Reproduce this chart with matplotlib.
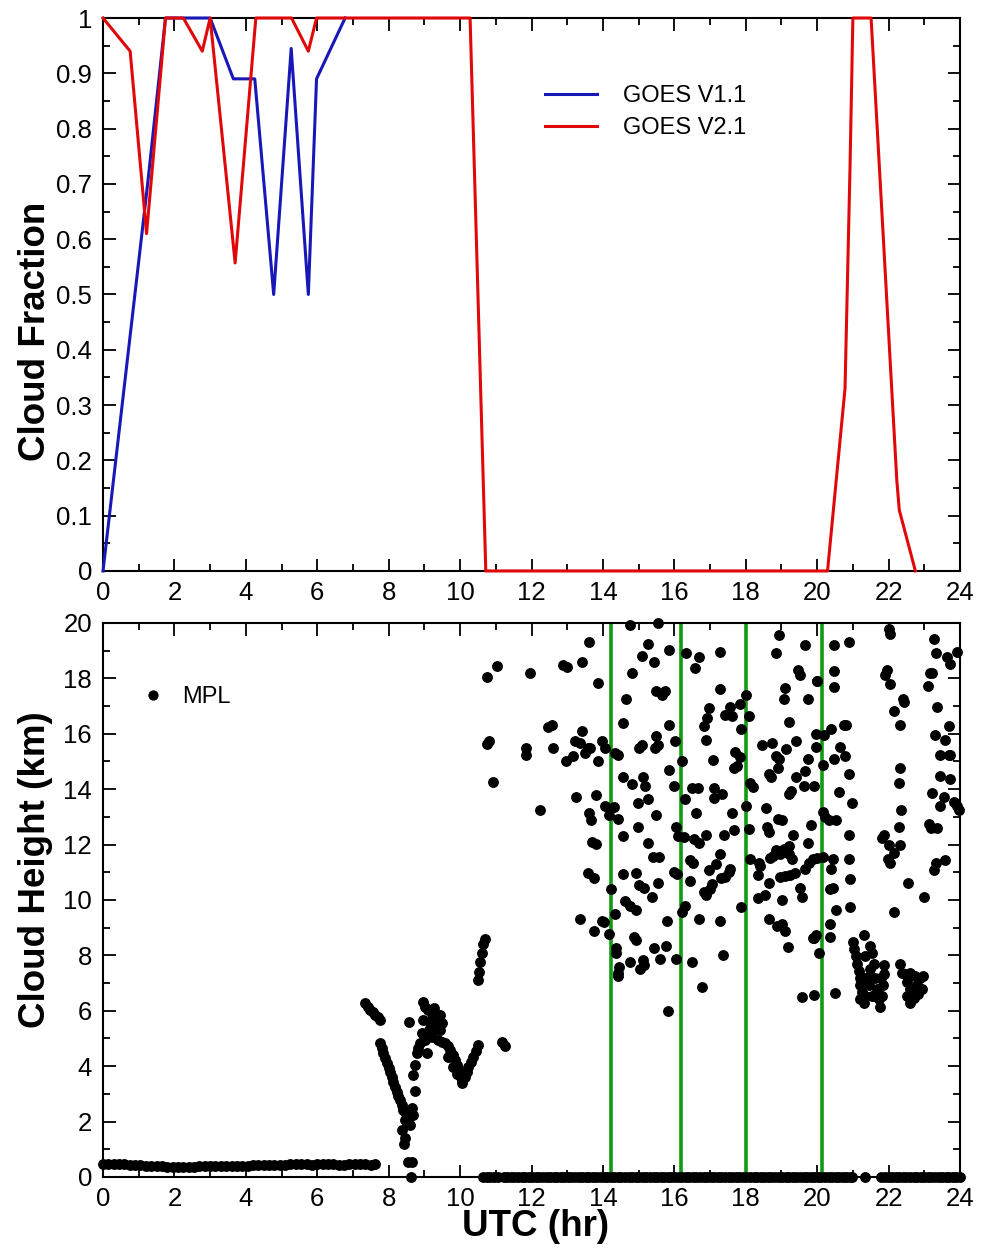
import matplotlib
matplotlib.use("Agg")
import matplotlib.pyplot as plt
from matplotlib.ticker import MultipleLocator, FuncFormatter
from matplotlib.lines import Line2D

plt.rcParams.update({
    "font.family": ["Liberation Sans", "DejaVu Sans"],
    "font.size": 18,
})

# --- GOES cloud fraction (top panel) ---
v11_hr = [0.0, 0.75, 1.25, 1.75, 3.0, 3.65, 4.25, 4.78, 5.27, 5.75, 5.98, 6.78]
v11_cf = [0.0, 0.42, 0.70, 1.0, 1.0, 0.89, 0.89, 0.50, 0.945, 0.50, 0.89, 1.0]

v21_hr = [0.0, 0.76, 1.22, 1.75, 2.25, 2.78, 3.0, 3.70, 4.28, 5.28, 5.75, 5.98,
          10.28, 10.72, 20.29, 20.78, 20.92, 21.0, 21.51, 22.23, 22.30, 22.75]
v21_cf = [1.0, 0.94, 0.61, 1.0, 1.0, 0.94, 1.0, 0.557, 1.0, 1.0, 0.94, 1.0,
          1.0, 0.0, 0.0, 0.33, 0.73, 1.0, 1.0, 0.164, 0.11, 0.0]

# --- MPL cloud heights (bottom panel) ---
base_hr = [0.00, 0.15, 0.30, 0.45, 0.60, 0.75, 0.90, 1.05, 1.20, 1.35, 1.50, 1.65,
           1.80, 1.95, 2.10, 2.25, 2.40, 2.55, 2.70, 2.85, 3.00, 3.15, 3.30, 3.45,
           3.60, 3.75, 3.90, 4.05, 4.20, 4.35, 4.50, 4.65, 4.80, 4.95, 5.10, 5.25,
           5.40, 5.55, 5.70, 5.85, 6.00, 6.15, 6.30, 6.45, 6.60, 6.75, 6.90, 7.05,
           7.20, 7.35, 7.50, 7.62]
base_km = [0.48, 0.47, 0.46, 0.46, 0.45, 0.44, 0.43, 0.42, 0.41, 0.40, 0.40, 0.38,
           0.37, 0.36, 0.36, 0.35, 0.36, 0.37, 0.38, 0.38, 0.39, 0.40, 0.40, 0.40,
           0.41, 0.40, 0.40, 0.41, 0.42, 0.42, 0.42, 0.43, 0.42, 0.43, 0.44, 0.46,
           0.47, 0.46, 0.45, 0.44, 0.45, 0.46, 0.46, 0.45, 0.44, 0.44, 0.45, 0.46,
           0.47, 0.45, 0.44, 0.46]

zero_hr = [10.65, 10.75, 10.85, 10.95, 11.05, 11.22, 11.32, 11.42, 11.52, 11.62,
           11.72, 11.82, 11.92, 12.02, 12.12, 12.22, 12.32, 12.42, 12.52, 12.62,
           12.72, 12.82, 12.92, 13.02, 13.12, 13.22, 13.32, 13.42, 13.52, 13.62,
           13.72, 13.82, 13.92, 14.02, 14.12, 14.22, 14.32, 14.42, 14.52, 14.62,
           14.72, 14.82, 14.92, 15.02, 15.12, 15.22, 15.32, 15.42, 15.52, 15.62,
           15.72, 15.82, 15.92, 16.02, 16.12, 16.22, 16.32, 16.42, 16.52, 16.62,
           16.72, 16.82, 16.92, 17.02, 17.12, 17.22, 17.32, 17.42, 17.52, 17.62,
           17.72, 17.82, 17.92, 18.02, 18.12, 18.22, 18.32, 18.42, 18.52, 18.62,
           18.72, 18.82, 18.92, 19.02, 19.12, 19.22, 19.32, 19.42, 19.52, 19.62,
           19.72, 19.82, 19.92, 20.02, 20.12, 20.22, 20.32, 20.42, 20.52, 20.62,
           20.72, 20.82, 20.92, 20.98, 21.34, 21.80, 21.90, 22.00, 22.10, 22.20,
           22.30, 22.40, 22.50, 22.60, 22.70, 22.80, 22.90, 23.00, 23.10, 23.20,
           23.30, 23.40, 23.50, 23.60, 23.70, 23.80, 23.90, 24.00]
zero_km = [0.0] * len(zero_hr)

low_hr = [7.34, 7.41, 7.48, 7.55, 7.62, 7.69, 7.76,
          7.76, 7.80, 7.85, 7.90, 7.95, 8.00, 8.04, 8.09, 8.13, 8.18, 8.22, 8.27,
          8.32, 8.36, 8.41, 8.46, 8.50,
          8.64, 8.69, 8.46, 8.60, 8.36, 8.46, 8.55, 8.64, 8.62, 8.58, 8.73, 8.55, 8.44,
          8.69, 8.74, 8.78, 8.83, 8.88, 8.92, 8.97, 9.02, 8.97,
          9.11, 9.25, 9.34, 9.44, 9.16, 9.30, 9.20, 9.44, 9.06, 9.38, 9.13, 9.28, 9.50, 9.22,
          9.39, 9.48, 9.58, 9.65, 9.72, 9.79, 9.86, 9.90, 9.95, 10.00, 10.05, 10.09,
          10.14, 10.19, 10.23, 10.30, 10.37, 10.44, 10.51, 9.81, 9.67, 9.02, 10.04, 9.92,
          10.50, 10.52, 10.56, 10.60, 10.65, 10.70, 11.17, 11.26]
low_km = [6.27, 6.15, 6.03, 5.94, 5.85, 5.76, 5.67,
          4.83, 4.65, 4.46, 4.28, 4.10, 3.95, 3.80, 3.62, 3.44, 3.26, 3.08, 2.93,
          2.78, 2.60, 2.42, 2.33, 2.24,
          2.48, 2.24, 2.06, 1.88, 1.70, 1.40, 0.55, 0.55, 0.01, 5.61, 3.12, 2.10, 1.20,
          3.68, 4.04, 4.46, 4.65, 4.83, 5.19, 5.67, 6.15, 6.33,
          6.03, 5.91, 5.67, 5.85, 5.55, 5.37, 5.07, 5.31, 4.46, 5.60, 5.30, 6.10, 5.55, 5.75,
          4.95, 4.89, 4.83, 4.71, 4.59, 4.40, 4.22, 4.05, 3.86, 3.65, 3.50, 3.60,
          3.62, 3.80, 3.98, 4.16, 4.34, 4.55, 4.76, 3.98, 4.34, 4.95, 3.40, 3.70,
          7.10, 7.40, 7.75, 8.10, 8.40, 8.60, 4.89, 4.71]

high_hr = [10.75, 11.03, 10.75, 10.80, 11.84, 11.84, 10.93, 12.25,
           11.96, 13.62, 12.89, 12.99, 13.41, 13.86, 14.76, 15.55, 15.27, 15.86, 15.09,
           15.43, 14.81, 15.49, 15.65, 15.74, 14.65, 14.57, 15.84, 16.03, 12.47, 12.56,
           12.60, 13.41, 13.22, 13.36, 13.57, 13.64, 13.50, 13.97, 14.06, 14.34, 14.41,
           13.17, 12.97, 13.86, 15.49, 15.55, 15.46, 15.09, 15.02, 14.57, 14.81, 15.13,
           15.18, 15.84, 15.98, 13.24, 13.81,
           14.06, 14.16, 14.31, 14.42, 13.62, 13.66, 14.97, 15.25, 15.49, 14.97, 16.04,
           16.10, 14.57, 13.69, 13.81, 15.25, 15.39, 15.58, 13.57, 13.74, 14.57, 14.93,
           15.02, 15.15, 15.53, 15.37, 15.99, 16.07, 14.24, 14.62, 14.76, 14.93, 14.34,
           13.36, 13.97, 14.03, 13.74, 14.16, 15.80, 14.87, 14.93, 14.37, 14.37, 15.43,
           15.76, 14.76, 15.13, 15.15, 15.04, 15.60, 16.04, 14.46, 14.41, 14.43, 15.83,
           16.33, 16.68, 16.58, 17.27, 17.28, 16.96, 16.91, 16.82, 16.89, 17.55, 17.42,
           17.61, 17.84, 17.86, 18.08, 18.01, 18.85, 18.94, 19.66, 19.45, 19.52, 19.99,
           19.10, 19.06, 19.73, 19.22, 19.41, 19.13, 19.97, 18.45, 18.73, 18.85, 18.94,
           18.91, 18.65, 18.71, 19.41, 19.73, 19.66, 19.62, 19.90, 18.12, 18.20, 17.71,
           17.84, 17.68, 17.75, 17.08, 16.21, 16.49, 16.65, 17.10, 17.10, 17.33, 16.31,
           19.22, 19.28, 18.01, 18.57, 16.61, 17.61, 18.89, 19.01, 18.59, 18.66, 19.84,
           16.26, 16.54, 16.68, 16.89, 17.38, 17.66, 18.08, 19.32, 19.73, 18.85, 18.97,
           19.06, 19.20, 18.68, 18.77, 18.38, 18.40, 19.22, 19.29, 19.76, 19.88, 19.99,
           19.66, 18.97, 19.11, 19.25, 19.39, 18.35, 18.66, 18.12, 17.28, 17.17, 17.57,
           17.52, 17.43, 17.31, 16.96, 16.44, 16.52, 16.43, 17.05, 16.99, 16.89, 16.82,
           18.33, 18.54, 19.51, 19.57, 19.01, 16.31, 16.21, 17.86, 16.68, 17.28, 18.66,
           18.87, 19.01, 19.11, 19.87, 19.96, 19.17, 20.05, 17.36, 16.49, 16.77, 19.57,
           19.91,
           20.46, 20.88, 20.46, 20.46, 20.00, 20.39, 20.18, 19.96, 20.74, 20.82, 20.64,
           20.78, 20.48, 20.16, 20.88, 20.61, 20.97, 20.16, 20.22, 20.34, 20.54, 20.88,
           20.44, 20.39, 20.16, 20.88, 20.91, 20.44, 20.35, 20.53, 20.91, 20.35, 20.35,
           19.91, 20.51,
           22.00, 22.05, 21.95, 21.91, 22.05, 22.42, 22.40, 22.14, 22.31, 23.26, 23.33,
           23.63, 23.72, 23.91, 23.15, 23.22, 23.10, 23.35, 23.68, 23.31, 23.59, 23.45,
           23.68, 23.72, 22.31, 22.28, 23.45, 23.72, 23.21, 23.54, 23.45, 23.82, 23.91,
           23.98, 22.36, 23.12, 23.18, 23.35, 21.86, 21.81, 22.28, 22.31, 22.00, 21.98,
           22.05, 22.14, 23.33, 23.59, 23.26, 22.53, 22.98, 22.14]
high_km = [18.05, 18.44, 15.64, 15.75, 15.50, 15.24, 14.27, 13.25,
           18.19, 19.33, 18.50, 18.40, 18.60, 17.82, 19.93, 20.00, 19.25, 19.03, 18.80,
           18.60, 18.19, 17.54, 17.41, 17.54, 17.26, 16.38, 16.31, 15.73, 16.25, 16.31,
           15.47, 16.09, 15.73, 15.66, 15.47, 15.50, 15.30, 15.73, 15.47, 15.31, 15.23,
           15.18, 15.00, 15.00, 15.92, 15.60, 15.47, 15.60, 15.47, 14.43, 14.17, 14.43,
           14.11, 14.69, 14.11, 13.72, 13.79,
           13.40, 13.07, 13.37, 12.94, 13.14, 12.88, 13.50, 13.66, 13.07, 12.65, 12.65,
           12.30, 12.30, 12.10, 12.01, 12.04, 11.55, 11.55, 10.96, 10.78, 10.94, 10.96,
           10.55, 10.45, 10.61, 10.10, 11.00, 10.94, 10.39, 9.97, 9.77, 9.64, 9.51,
           9.32, 9.23, 9.19, 8.87, 8.76, 9.23, 8.67, 8.54, 8.28, 8.09, 8.28,
           8.35, 7.77, 7.83, 7.64, 7.51, 7.86, 7.86, 7.57, 7.38, 7.25, 5.99,
           18.90, 18.77, 18.38, 18.96, 17.60, 16.92, 16.57, 16.27, 15.79, 16.96, 16.67,
           16.65, 17.09, 16.18, 16.63, 17.41, 18.90, 19.55, 19.20, 18.32, 18.12, 17.90,
           17.67, 17.26, 17.26, 16.44, 15.73, 15.44, 15.53, 15.60, 15.66, 15.21, 15.08,
           14.76, 14.56, 14.43, 14.43, 15.08, 14.67, 14.11, 14.11, 14.24, 14.07, 15.34,
           15.15, 14.76, 14.82, 15.06, 15.00, 14.05, 14.05, 14.05, 13.68, 13.81, 13.66,
           13.81, 13.92, 13.40, 13.33, 13.14, 13.14, 12.94, 12.88, 12.62, 12.47, 12.69,
           12.26, 12.21, 12.04, 12.36, 12.36, 12.52, 12.56, 12.36, 12.04, 11.82, 11.65,
           11.85, 11.95, 11.52, 11.59, 11.33, 11.22, 11.65, 11.48, 11.33, 11.48, 11.52,
           11.13, 10.83, 10.87, 10.91, 10.96, 10.91, 10.61, 11.48, 11.65, 11.29, 11.13,
           11.00, 10.83, 10.81, 11.10, 11.46, 11.35, 10.68, 10.56, 10.39, 10.19, 10.29,
           10.06, 10.19, 10.45, 10.10, 10.01, 9.77, 9.58, 9.75, 9.32, 9.23, 9.32,
           9.06, 9.13, 8.87, 8.61, 8.74, 8.32, 8.09, 8.03, 7.77, 6.86, 6.51,
           6.56,
           19.20, 19.33, 18.25, 17.70, 17.90, 16.18, 15.96, 16.00, 16.31, 16.31, 15.53,
           15.18, 15.10, 14.89, 14.54, 13.89, 13.50, 13.17, 13.01, 12.88, 12.88, 12.36,
           11.48, 11.13, 11.56, 11.48, 10.74, 10.42, 10.39, 9.64, 9.75, 9.15, 8.67,
           8.63, 6.64,
           19.80, 19.61, 18.32, 18.12, 17.80, 17.15, 17.25, 16.83, 16.31, 19.42, 18.90,
           18.77, 18.51, 18.96, 18.19, 18.19, 17.73, 16.96, 16.27, 15.96, 15.79, 15.24,
           15.24, 15.24, 14.76, 14.24, 14.46, 14.37, 13.85, 13.72, 13.40, 13.55, 13.40,
           13.24, 13.24, 12.75, 12.60, 12.60, 12.36, 12.23, 12.65, 11.97, 11.97, 11.48,
           11.33, 11.69, 11.33, 11.46, 11.07, 10.61, 10.10, 9.58]

# low clusters after 21 UTC
late_hr = [20.99, 21.04, 21.09, 21.11, 21.16, 21.19, 21.20, 21.25, 21.20, 21.30,
           21.34, 21.30, 21.48, 21.53, 21.48, 21.62, 21.67, 21.72, 21.76, 21.81,
           21.84, 21.86, 21.88, 21.78, 21.58, 21.44, 21.53, 21.39, 21.62, 21.34, 21.30,
           22.33, 22.38, 22.46, 22.61, 22.75, 22.88, 22.97, 22.51, 22.61, 22.79,
           22.93, 22.51, 22.61, 22.83, 22.70]
late_km = [8.48, 8.22, 7.96, 7.70, 7.44, 7.18, 6.93, 6.67, 6.41, 6.28,
           6.54, 8.74, 8.35, 8.09, 7.51, 7.18, 6.80, 6.41, 6.15, 6.54,
           6.93, 7.31, 7.64, 7.18, 7.70, 6.93, 6.54, 7.18, 6.54, 7.96, 7.18,
           7.70, 7.38, 7.31, 7.38, 7.25, 7.18, 7.25, 7.05, 6.80, 6.93,
           6.80, 6.54, 6.28, 6.60, 6.47]

green_hr = [14.22, 16.19, 18.0, 20.14]

BLUE = "#1818b8"
RED = "#e00808"
GREEN = "#139a13"

fig = plt.figure(figsize=(9.81, 12.51), dpi=100)
ax1 = fig.add_axes([0.105, 0.5436, 0.8736, 0.442])
ax2 = fig.add_axes([0.105, 0.0592, 0.8736, 0.4428])

ax1.plot(v11_hr, v11_cf, color=BLUE, lw=2.2, clip_on=False, zorder=3)
ax1.plot(v21_hr, v21_cf, color=RED, lw=2.2, clip_on=False, zorder=4)
ax1.set_xlim(0, 24)
ax1.set_ylim(0, 1)
ax1.yaxis.set_major_locator(MultipleLocator(0.1))
ax1.yaxis.set_minor_locator(MultipleLocator(0.05))
ax1.yaxis.set_major_formatter(FuncFormatter(lambda v, p: f"{v:.1f}".rstrip("0").rstrip(".") if v else "0"))
ax1.set_ylabel("Cloud Fraction", fontsize=26.5, fontweight="bold")
ax1.yaxis.set_label_coords(-0.058, 0.434)
handles = [Line2D([], [], color=BLUE, lw=2.2), Line2D([], [], color=RED, lw=2.2)]
ax1.legend(handles, ["GOES V1.1", "GOES V2.1"], loc="upper left",
           bbox_to_anchor=(0.516, 0.878), frameon=False, fontsize=17,
           handlelength=2.2, handletextpad=1.1, labelspacing=0.42,
           borderpad=0, borderaxespad=0)

for h in green_hr:
    ax2.axvline(h, color=GREEN, lw=2.6, zorder=2)
mk = dict(marker="o", ls="none", color="black", ms=6.8, clip_on=False, zorder=3)
ax2.plot(base_hr, base_km, **mk)
ax2.plot(zero_hr, zero_km, **mk)
ax2.plot(low_hr, low_km, **mk)
ax2.plot(high_hr, high_km, **mk)
ax2.plot(late_hr, late_km, **mk)
ax2.set_xlim(0, 24)
ax2.set_ylim(0, 20)
ax2.yaxis.set_major_locator(MultipleLocator(2))
ax2.yaxis.set_minor_locator(MultipleLocator(1))
ax2.set_ylabel("Cloud Height (km)", fontsize=26.5, fontweight="bold")
ax2.yaxis.set_label_coords(-0.058, 0.554)
ax2.set_xlabel("UTC (hr)", fontsize=26.5, fontweight="bold")
ax2.xaxis.set_label_coords(0.505, -0.058)
ax2.legend([Line2D([], [], marker="o", ls="none", color="black", ms=6.4)], ["MPL"],
           loc="upper left", bbox_to_anchor=(0.045, 0.886), frameon=False,
           fontsize=17, handlelength=1.0, handletextpad=0.7,
           borderpad=0, borderaxespad=0)

for ax in (ax1, ax2):
    ax.xaxis.set_major_locator(MultipleLocator(2))
    ax.xaxis.set_minor_locator(MultipleLocator(1))
    ax.tick_params(which="both", direction="in", top=True, right=True,
                   width=1.3, labelsize=18.5)
    ax.tick_params(which="major", length=9)
    ax.tick_params(which="minor", length=5)
    ax.tick_params(axis="x", pad=7)
    ax.tick_params(axis="y", pad=8)
    for s in ax.spines.values():
        s.set_linewidth(1.5)

fig.savefig("out.png", dpi=100)
